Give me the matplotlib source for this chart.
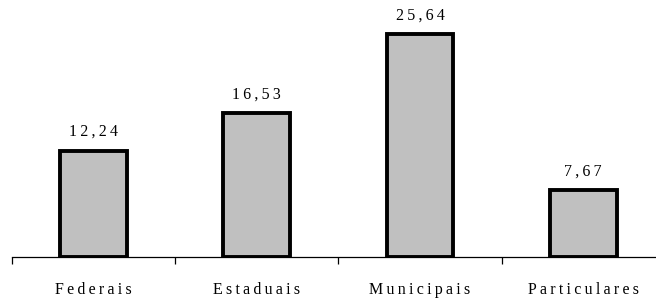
import matplotlib
matplotlib.use("Agg")
import matplotlib.pyplot as plt

categories = ["Federais", "Estaduais", "Municipais", "Particulares"]
values = [12.24, 16.53, 25.64, 7.67]
value_labels = ["12,24", "16,53", "25,64", "7,67"]

SP = "\u2009"
def spaced(s):
    return SP.join(s)

fam = ["Liberation Serif", "DejaVu Serif"]

fig = plt.figure(figsize=(6.56, 3.02), dpi=100)
ax = fig.add_axes([12/656, 45/302, 652.8/656, 257/302])
x = list(range(len(categories)))
bars = ax.bar(x, values, width=0.41, color="#C0C0C0", edgecolor="black", linewidth=2.8, zorder=3)
ax.set_xlim(-0.5, 3.5)
ax.set_ylim(0, 257/8.697)
for s in ["top", "right", "left"]:
    ax.spines[s].set_visible(False)
ax.spines["bottom"].set_linewidth(0.9)
ax.set_yticks([])
ax.set_xticks(x)
ax.set_xticklabels([spaced(c) for c in categories], family=fam, fontsize=11.5)
ax.tick_params(axis="x", which="major", length=0, pad=18)
ax.set_xticks([-0.5, 0.5, 1.5, 2.5, 3.5], minor=True)
ax.tick_params(axis="x", which="minor", length=5, width=0.9, direction="out")
for xi, v, lab in zip(x, values, value_labels):
    ax.annotate(spaced(lab), (xi, v), xytext=(0, 7.5), textcoords="offset points",
                ha="center", va="bottom", family=fam, fontsize=11.5)
fig.savefig("out.png", dpi=100)
